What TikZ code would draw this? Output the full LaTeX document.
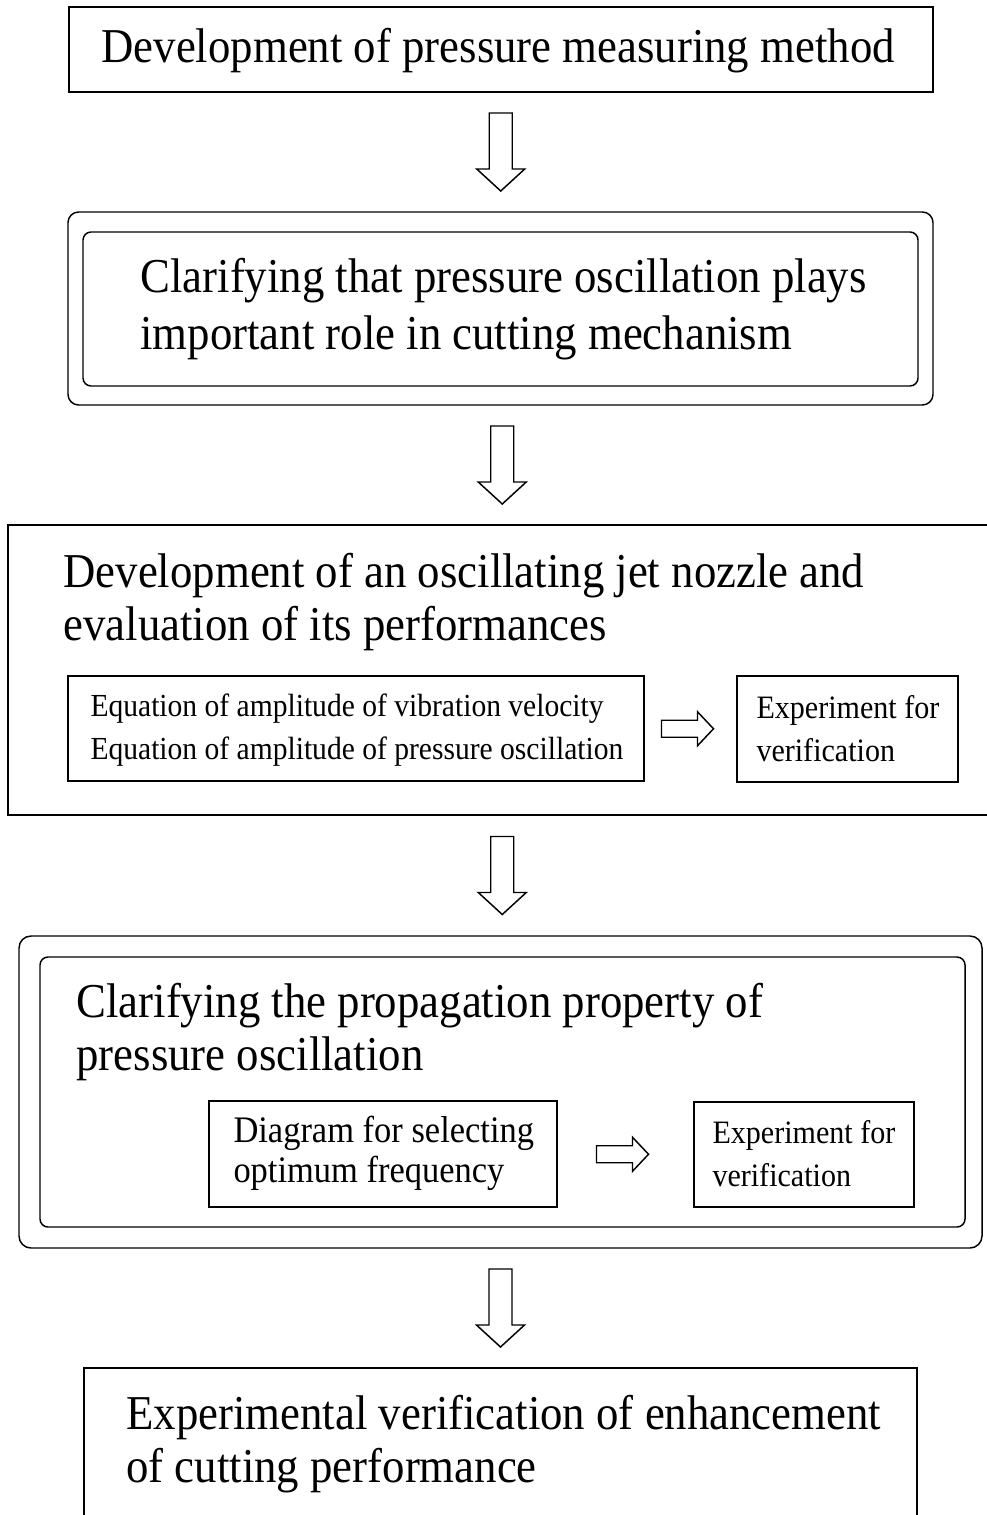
\documentclass[tikz,border=0pt]{standalone}
\usepackage{fontspec}
\setmainfont[FakeStretch=0.92]{Liberation Serif}
\usetikzlibrary{fit,calc}

\tikzset{every picture/.style={line width=0.75pt}}
\tikzset{
	frame/.style={draw, inner sep=0pt, line width=1.1pt},
	rframe/.style={draw, inner sep=0pt, line width=1.1pt, rounded corners=#1},
	bigtxt/.style={anchor=base west, align=left, inner sep=0pt, font=\fontsize{36.5}{39.5}\selectfont},
	smalltxt/.style={anchor=base west, align=left, inner sep=0pt, font=\fontsize{24.1}{32.2}\selectfont},
	hollow/.style={draw, fill=white, line width=1.1pt, line join=miter}
}

% hollow block arrow going down from node #1 to node #2
\newcommand{\downblock}[2]{%
	\coordinate (mid) at ($(#1.south)!0.5!(#2.north)$);
	\draw[hollow] ($(mid)+(-11.5,-39)$) -- ++(23,0) -- ++(0,56) -- ++(12.5,0) -- ($(mid)+(0,39)$) -- ($(mid)+(-24,17)$) -- ++(12.5,0) -- cycle;
}
% hollow block arrow going right from node #1 to node #2
\newcommand{\rightblock}[2]{%
	\coordinate (mid) at ($(#1.east)!0.5!(#2.west)$);
	\draw[hollow] ($(mid)+(-29,-8.5)$) -- ++(36,0) -- ++(0,-8.5) -- ($(mid)+(23,0)$) -- ($(mid)+(7,17)$) -- ++(0,-8.5) -- ++(-36,0) -- cycle;
}

\begin{document}
\begin{tikzpicture}[x=0.75pt,y=0.75pt,yscale=-1,xscale=1]
	\clip (0,0) rectangle (987,1515);
	\fill[white] (0,0) rectangle (987,1515);

	%Shape: Rectangle
	\node[frame, fit={(69,7) (933,92)}] (meas) {};
	%Shape: Rounded Rectangle (double)
	\node[rframe=8pt, fit={(68,212) (933,405)}] (role) {};
	\node[rframe=6pt, fit={(83,232) (918,386)}] (roleIn) {};
	%Shape: Rectangle
	\node[frame, fit={(8,525) (1000,815)}] (nozzle) {};
	\node[frame, fit={(68,676) (644,781)}] (eqns) {};
	\node[frame, fit={(737,676) (958,782)}] (expA) {};
	%Shape: Rounded Rectangle (double)
	\node[rframe=9pt, fit={(19,936) (982,1248)}] (prop) {};
	\node[rframe=6pt, fit={(40,957) (965,1227)}] (propIn) {};
	\node[frame, fit={(209,1101) (557,1207)}] (diag) {};
	\node[frame, fit={(694,1102) (914,1207)}] (expB) {};
	%Shape: Rectangle
	\node[frame, fit={(84,1368) (917,1540)}] (verif) {};

	%Block arrows
	\downblock{meas}{role}
	\downblock{role}{nozzle}
	\downblock{nozzle}{prop}
	\downblock{prop}{verif}
	\rightblock{eqns}{expA}
	\rightblock{diag}{expB}

	% Text Node (base = last line)
	\node[bigtxt] (measT) at (101,63) {Development of pressure measuring method};
	% Text Node
	\node[bigtxt, font=\fontsize{36.5}{43.5}\selectfont] (roleT) at (140,350) {Clarifying that pressure oscillation plays\\important role in cutting mechanism};
	% Text Node
	\node[bigtxt] (nozzleT) at (63,640) {Development of an oscillating jet nozzle and\\evaluation of its performances};
	% Text Node
	\node[smalltxt] (eqnsT) at (90,759) {Equation of amplitude of vibration velocity\\Equation of amplitude of pressure oscillation};
	% Text Node
	\node[smalltxt, font=\fontsize{24.5}{32.2}\selectfont] (expAT) at (756,761) {Experiment for\\verification};
	% Text Node
	\node[bigtxt] (propT) at (76,1070) {Clarifying the propagation property of\\pressure oscillation};
	% Text Node
	\node[smalltxt, font=\fontsize{28.1}{29.5}\selectfont] (diagT) at (233,1182) {Diagram for selecting\\optimum frequency};
	% Text Node
	\node[smalltxt, font=\fontsize{24.5}{32.2}\selectfont] (expBT) at (712,1186) {Experiment for\\verification};
	% Text Node
	\node[bigtxt] (verifT) at (126,1482) {Experimental verification of enhancement\\of cutting performance};

\end{tikzpicture}
\end{document}
